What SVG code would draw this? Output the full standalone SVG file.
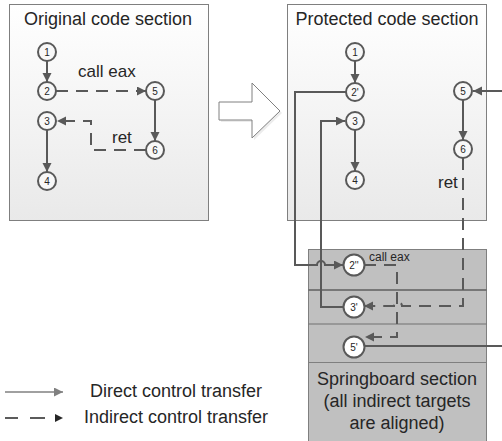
<svg xmlns="http://www.w3.org/2000/svg" width="502" height="441" viewBox="0 0 502 441">
<defs>
<linearGradient id="boxg" x1="0" y1="0" x2="0" y2="1">
<stop offset="0" stop-color="#ffffff"/>
<stop offset="1" stop-color="#e9e9e9"/>
</linearGradient>
<marker id="ah" markerUnits="userSpaceOnUse" markerWidth="10" markerHeight="10" refX="9" refY="4.5" orient="auto">
<path d="M0,0 L9,4.5 L0,9 z" fill="#595959"/>
</marker>
<marker id="ahl" markerUnits="userSpaceOnUse" markerWidth="10" markerHeight="10" refX="9" refY="4.5" orient="auto">
<path d="M0,0 L9,4.5 L0,9 z" fill="#808080"/>
</marker>
</defs>
<style>
text{font-family:"Liberation Sans",Arial,sans-serif;fill:#262626}
.title{font-size:18px;text-anchor:middle}
.lbl{font-size:17px}
.nl{font-size:10px;text-anchor:middle}
.box{fill:url(#boxg);stroke:#7f7f7f;stroke-width:1}
.nd{fill:#f8f8f8;stroke:#595959;stroke-width:2}
.snd{fill:#ffffff;stroke:#595959;stroke-width:2}
.c{fill:none;stroke:#595959;stroke-width:2}
.d{fill:none;stroke:#595959;stroke-width:2;stroke-dasharray:12 8}
.arr{marker-end:url(#ah)}
</style>
<rect width="502" height="441" fill="#ffffff"/>

<g id="original-section">
<rect class="box" x="9.5" y="4.5" width="199" height="216"/>
<text class="title" x="108" y="25">Original code section</text>
</g>

<g id="transform-arrow">
<polygon points="221,104 254,104 254,85 282,113 254,140 254,122 221,122" fill="#ececec" stroke="none"/>
<polygon points="219,102 252,102 252,83 280,111 252,138 252,120 219,120" fill="#ffffff" stroke="#808080" stroke-width="1"/>
</g>

<g id="protected-section">
<rect class="box" x="287.5" y="4.5" width="199" height="216"/>
<text class="title" x="387" y="25">Protected code section</text>
</g>

<g id="springboard-section">
<rect x="308.5" y="249.5" width="178" height="200" fill="#c0c0c0" stroke="#7f7f7f" stroke-width="1"/>
<line x1="308.5" y1="290" x2="486.5" y2="290" stroke="#5f5f5f" stroke-width="1.5"/>
<line x1="308.5" y1="324" x2="486.5" y2="324" stroke="#707070" stroke-width="1.2"/>
<line x1="308.5" y1="362.5" x2="486.5" y2="362.5" stroke="#7f7f7f" stroke-width="1"/>
<text class="title" x="397" y="385">Springboard section</text>
<text class="title" x="397" y="407">(all indirect targets</text>
<text class="title" x="397" y="429">are aligned)</text>
</g>

<g id="connectors">
<path class="c arr" d="M47 61 L47 82"/>
<path class="c arr" d="M155 100 L155 141"/>
<path class="c arr" d="M47 130 L47 172"/>
<path class="d arr" d="M56 91 L146 91"/>
<path class="d arr" d="M146 150 L91 150 L91 121 L57 121"/>
<path class="c arr" d="M355 61 L355 83"/>
<path class="c arr" d="M355 129 L355 171"/>
<path class="c arr" d="M463 100 L463 140"/>
<path class="c arr" d="M346 92 L295 92 L295 265 L317 265 A4 4 0 0 1 325 265 L343 265"/>
<path class="c arr" d="M344 307 L321 307 L321 121 L345 121"/>
<path class="d arr" d="M463 158 L463 306 L402 306 A4 4 0 0 0 394 306 L364 306"/>
<path class="d arr" d="M364 265 L397 265 L397 337 L365 337"/>
<path class="c arr" d="M364 346 L510 346 L510 91 L473 91"/>
</g>

<g id="labels">
<text class="lbl" x="78" y="77">call eax</text>
<text class="lbl" x="112" y="143">ret</text>
<text class="lbl" x="438" y="188">ret</text>
<text x="369" y="261" font-size="12">call eax</text>
</g>

<g id="n1"><circle class="nd" cx="47" cy="52" r="9"/><text class="nl" x="47" y="55.5">1</text></g>
<g id="n2"><circle class="nd" cx="47" cy="91" r="9"/><text class="nl" x="47" y="94.5">2</text></g>
<g id="n5"><circle class="nd" cx="155" cy="91" r="9"/><text class="nl" x="155" y="94.5">5</text></g>
<g id="n3"><circle class="nd" cx="47" cy="121" r="9"/><text class="nl" x="47" y="124.5">3</text></g>
<g id="n6"><circle class="nd" cx="155" cy="150" r="9"/><text class="nl" x="155" y="153.5">6</text></g>
<g id="n4"><circle class="nd" cx="47" cy="181" r="9"/><text class="nl" x="47" y="184.5">4</text></g>

<g id="p1"><circle class="nd" cx="355" cy="52" r="9"/><text class="nl" x="355" y="55.5">1</text></g>
<g id="p2"><circle class="nd" cx="355" cy="92" r="9"/><text class="nl" x="355" y="95.5">2'</text></g>
<g id="p3"><circle class="nd" cx="355" cy="121" r="9"/><text class="nl" x="355" y="124.5">3</text></g>
<g id="p4"><circle class="nd" cx="355" cy="180" r="9"/><text class="nl" x="355" y="183.5">4</text></g>
<g id="p5"><circle class="nd" cx="463" cy="91" r="9"/><text class="nl" x="463" y="94.5">5</text></g>
<g id="p6"><circle class="nd" cx="463" cy="149" r="9"/><text class="nl" x="463" y="152.5">6</text></g>

<g id="s2"><circle class="snd" cx="354" cy="265" r="10.5"/><text class="nl" x="354" y="268.5">2''</text></g>
<g id="s3"><circle class="snd" cx="354" cy="307" r="10.5"/><text class="nl" x="354" y="310.5">3'</text></g>
<g id="s5"><circle class="snd" cx="354" cy="347" r="10.5"/><text class="nl" x="354" y="350.5">5'</text></g>

<g id="legend">
<path d="M5 392 L63 392" fill="none" stroke="#808080" stroke-width="1.5" marker-end="url(#ahl)"/>
<path d="M5 418 L18 418 M30 418 L45 418" fill="none" stroke="#262626" stroke-width="1.5"/>
<polygon points="55,414 63,418 55,422" fill="#262626"/>
<text x="90" y="397" font-size="18">Direct control transfer</text>
<text x="84" y="423" font-size="18">Indirect control transfer</text>
</g>
</svg>
